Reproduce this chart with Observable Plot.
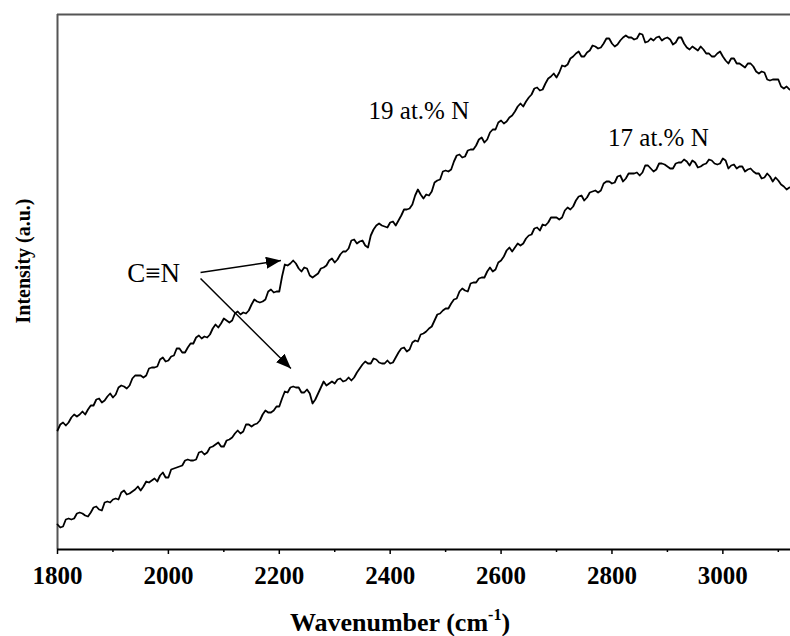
<!DOCTYPE html>
<html><head><meta charset="utf-8">
<script src="https://cdn.jsdelivr.net/npm/d3@7"></script>
<script src="https://cdn.jsdelivr.net/npm/@observablehq/plot@0.6"></script>
<style>body{margin:0;background:#fff} #chart svg{display:block}</style>
</head><body><div id="chart"></div>
<script>
// Raman spectra, wavenumber sampling (cm^-1)
const wavenumber = d3.range(1800, 3121, 5);
// intensity (a.u.)
const n19 = [119,125,127,124,127,132,135,133,135,138,135,140,144,144,150,151,147,149,153,156,
152,155,162,164,163,161,164,171,174,174,174,172,174,181,182,182,183,190,192,188,
189,193,194,201,201,197,197,202,206,206,212,214,211,213,212,215,221,225,222,226,
231,229,227,229,236,238,235,237,236,239,245,250,248,247,248,250,258,260,257,258,
258,273,285,284,286,289,286,281,278,282,281,274,272,274,276,281,282,284,289,291,
287,290,295,298,298,301,309,310,306,308,309,304,302,314,320,324,326,324,323,322,
327,328,324,329,334,340,340,341,345,354,360,355,351,355,354,358,367,369,370,378,
379,378,380,388,394,395,392,393,399,400,400,404,410,412,407,410,417,420,420,427,
429,426,428,432,434,438,443,446,443,448,452,455,461,462,459,460,466,471,473,476,
472,477,484,483,485,491,493,496,498,493,493,497,499,504,503,501,502,506,511,511,
506,503,505,509,512,514,512,512,510,511,516,515,507,508,511,509,512,513,509,511,
512,510,505,507,512,512,506,502,500,503,501,499,503,500,496,496,493,493,496,498,
493,489,486,491,491,486,486,484,482,486,486,483,478,476,478,477,470,469,470,470,
470,463,461,463,460];
const n17 = [25,22,23,30,31,30,31,36,37,36,34,33,37,42,43,40,39,47,48,47,
50,51,50,57,59,55,56,58,60,63,59,63,68,67,69,71,68,74,77,72,
72,80,81,82,83,84,89,90,89,89,90,97,98,95,97,102,103,105,107,103,
103,109,110,112,116,119,116,118,125,125,123,125,126,129,135,139,137,137,139,143,
143,151,158,157,162,163,162,162,157,157,160,156,146,150,156,162,168,164,166,168,
166,170,171,168,169,172,169,172,177,181,185,188,186,186,191,190,187,186,186,189,
186,187,192,197,201,202,198,200,207,209,208,215,216,218,221,223,229,235,236,239,
241,241,246,250,251,258,261,259,258,266,267,267,271,272,272,278,282,278,280,287,
289,293,299,302,298,302,306,304,306,311,314,315,321,322,319,325,324,327,332,332,
332,330,332,339,342,340,343,349,353,354,349,352,357,358,359,357,359,366,368,368,
366,367,373,374,368,371,376,376,376,377,374,377,384,384,381,378,380,386,386,385,
383,381,381,386,387,387,390,388,384,389,387,382,383,385,386,390,389,386,385,386,
391,389,381,384,385,381,383,383,378,380,381,378,376,376,371,372,376,373,368,372,
369,365,363,360,362];
const majorTicks = [1800, 2000, 2200, 2400, 2600, 2800, 3000];
const minorTicks = [1900, 2100, 2300, 2500, 2700, 2900, 3100];
const seriesNames = ["19 at.% N", "17 at.% N"];
const seriesLabelX = [2361, 2793];
const seriesLabelY = [439, 412];
const bondName = "C≡N";
const bondX = 1926, bondY = 276;
const arrowFromX = [2058, 2058], arrowFromY = [277, 271];
const arrowToX = [2203, 2221], arrowToY = [289, 181];

const rows = [];
wavenumber.forEach((w, i) => {
  rows.push({series: seriesNames[0], wn: w, intensity: n19[i]});
  rows.push({series: seriesNames[1], wn: w, intensity: n17[i]});
});
const labels = seriesNames.map((s, i) => ({name: s, x: seriesLabelX[i], y: seriesLabelY[i]}));
const arrows = arrowFromX.map((_, i) => ({x1: arrowFromX[i], y1: arrowFromY[i], x2: arrowToX[i], y2: arrowToY[i]}));

const serif = "Liberation Serif, Times New Roman, serif";
const plot = Plot.plot({
  width: 790, height: 636,
  marginLeft: 57, marginRight: 0, marginTop: 14, marginBottom: 87,
  x: {domain: [1800, 3122]},
  y: {domain: [0, 535], axis: null},
  style: {fontFamily: serif, background: "#fff", color: "#000"},
  marks: [
    Plot.ruleY([535], {stroke: "#555", strokeWidth: 2}),
    Plot.ruleX([1800], {stroke: "#555", strokeWidth: 2}),
    Plot.axisX(minorTicks, {tickSize: 3, fill: "none", label: null, strokeWidth: 1.5}),
    Plot.axisX(majorTicks, {tickSize: 5, tickPadding: 12, tickFormat: d => String(d),
      fontSize: 25, fontWeight: "bold", fontFamily: serif, label: null, strokeWidth: 1.5}),
    Plot.ruleY([0], {stroke: "#000", strokeWidth: 2}),
    Plot.line(rows, {x: "wn", y: "intensity", z: "series", stroke: "#000", strokeWidth: 1.8}),
    Plot.text(labels, {x: "x", y: "y", text: "name", textAnchor: "start", fontSize: 25, fill: "#000", fontFamily: serif}),
    Plot.text([bondName], {x: () => bondX, y: () => bondY, text: d => d, textAnchor: "start", fontSize: 27, fill: "#000", fontFamily: serif}),
    Plot.link(arrows, {x1: "x1", y1: "y1", x2: "x2", y2: "y2", stroke: "#000", strokeWidth: 1.5})
  ]
});

const svg = d3.select(plot);
const defs = svg.insert("defs", ":first-child");
defs.append("marker").attr("id", "cnhead").attr("markerUnits", "userSpaceOnUse")
  .attr("markerWidth", 16).attr("markerHeight", 12).attr("refX", 15).attr("refY", 6)
  .attr("orient", "auto").append("path").attr("d", "M0,0L15,6L0,12Z").attr("fill", "#000");
svg.selectAll('g[aria-label="link"] path').attr("marker-end", "url(#cnhead)");

const xt = svg.append("text").attr("x", 400).attr("y", 631).attr("text-anchor", "middle")
  .attr("font-family", serif).attr("font-size", 26).attr("font-weight", "bold").attr("fill", "#000");
xt.append("tspan").text("Wavenumber (cm");
xt.append("tspan").attr("font-size", 16).attr("dy", -11).text("-1");
xt.append("tspan").attr("dy", 11).text(")");

svg.append("text").attr("transform", "translate(30,261) rotate(-90)").attr("text-anchor", "middle")
  .attr("font-family", serif).attr("font-size", 20).attr("font-weight", "bold").attr("fill", "#000")
  .text("Intensity (a.u.)");

document.getElementById("chart").appendChild(plot);
</script>
</body></html>
